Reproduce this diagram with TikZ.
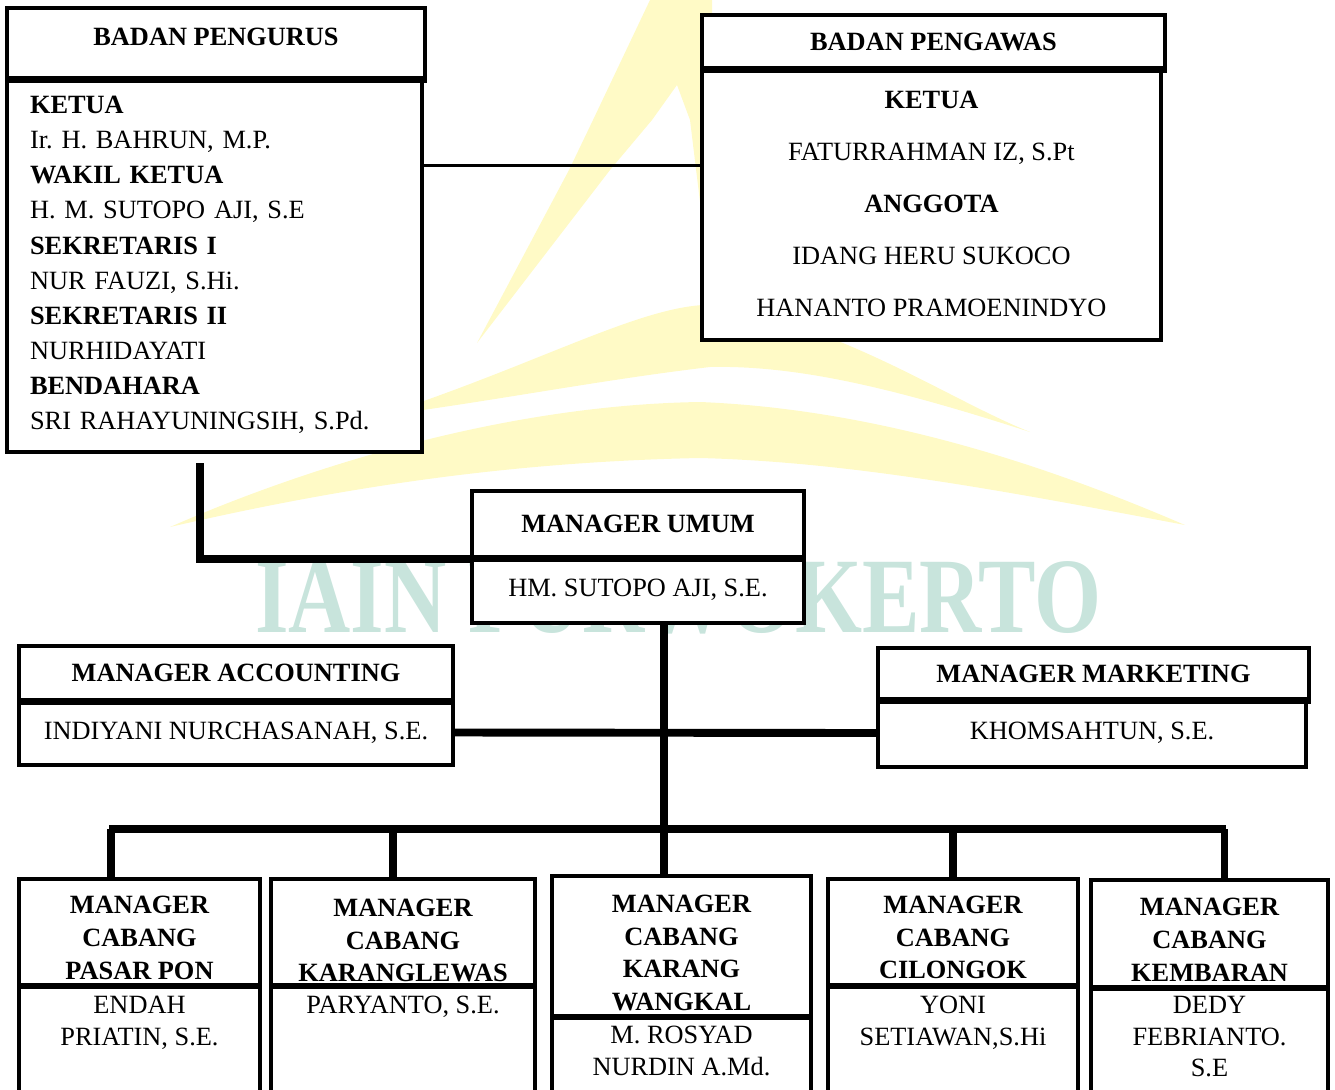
\documentclass[tikz,border=0pt]{standalone}
\usepackage{fontspec}
\setmainfont{Liberation Serif}
\frenchspacing
\definecolor{wmyellow}{RGB}{255,250,198}
\definecolor{wmteal}{RGB}{200,228,220}
\tikzset{
    box/.style = {
      draw,
      line width=2pt,
      fill=white,
      rectangle,
      inner sep=0pt,
      font=\fontsize{15}{20}\selectfont
    },
    headbox/.style = {
      box,
      font=\fontsize{15}{20}\selectfont\bfseries
    },
    cabtitle/.style = {inner sep=0pt, align=center, font=\fontsize{15}{18.7}\selectfont\bfseries},
    cabname/.style = {inner sep=0pt, align=center, anchor=north, font=\fontsize{15}{17.9}\selectfont},
    divider/.style = {line width=3.5pt},
    link/.style = {line width=2pt},
    thicklink/.style = {line width=4.5pt},
    droplink/.style = {line width=4pt},
}
\begin{document}
\begin{tikzpicture}[x=0.02cm, y=-0.02cm]
        \useasboundingbox (0,0) rectangle (1335,1089);
        \clip (0,0) rectangle (1335,1089);

        % watermark
        \fill[wmyellow] (650,0) -- (712,0) -- (712,300) -- (690,120) -- (677,85) -- (652,120)
          -- (610,170) -- (477,343) -- (569,170) -- (593,120) -- cycle;
        \fill[wmyellow] (380,416) .. controls (550,360) and (650,300) .. (720,305)
          .. controls (850,330) and (950,400) .. (1030,432)
          .. controls (900,390) and (800,365) .. (710,367)
          .. controls (600,380) and (500,400) .. (380,416) -- cycle;
        \fill[wmyellow] (170,527) .. controls (300,470) and (500,405) .. (700,402)
          .. controls (900,410) and (1080,480) .. (1185,525)
          .. controls (1000,490) and (850,462) .. (700,458)
          .. controls (500,462) and (330,490) .. (170,527) -- cycle;
        \node[inner sep=0pt, text=wmteal, anchor=base] (wmtext) at (678.5,632)
          {\resizebox{16.94cm}{1.42cm}{\bfseries IAIN PURWOKERTO}};

        % badan pengurus / pengawas
        \node[headbox, minimum width=8.36cm, minimum height=1.4cm, text depth=0.24cm] (pengurushead) at (216,43) {BADAN PENGURUS};
        \node[box, minimum width=8.3cm, minimum height=7.48cm, text width=7.38cm,
          inner xsep=0.46cm, align=left] (pengurusbody) at (214.5,265)
          {\textbf{KETUA}\\Ir. H. BAHRUN, M.P.\\\textbf{WAKIL KETUA}\\H. M. SUTOPO AJI, S.E\\
           \textbf{SEKRETARIS I}\\NUR FAUZI, S.Hi.\\\textbf{SEKRETARIS II}\\NURHIDAYATI\\
           \textbf{BENDAHARA}\\SRI RAHAYUNINGSIH, S.Pd.};
        \draw[divider] (pengurushead.south west) -- (pengurushead.south east);

        \node[headbox, minimum width=9.26cm, minimum height=1.06cm] (pengawashead) at (933.5,41.5) {BADAN PENGAWAS};
        \node[box, minimum width=9.18cm, minimum height=5.44cm, align=center,
          font=\fontsize{15}{29.5}\selectfont] (pengawasbody) at (931.5,204)
          {\textbf{KETUA}\\FATURRAHMAN IZ, S.Pt\\\textbf{ANGGOTA}\\IDANG HERU SUKOCO\\HANANTO PRAMOENINDYO};
        \draw[divider] (pengawashead.south west) -- (pengawashead.south east);

        % managers
        \node[headbox, minimum width=6.64cm, minimum height=1.32cm] (umumhead) at (638,524) {MANAGER UMUM};
        \node[box, minimum width=6.64cm, minimum height=1.32cm] (umumbody) at (638,590) {HM. SUTOPO AJI, S.E.};
        \draw[divider] (umumhead.south west) -- (umumhead.south east);

        \node[headbox, minimum width=8.68cm, minimum height=1.08cm] (accounthead) at (236,673) {MANAGER ACCOUNTING};
        \node[box, minimum width=8.68cm, minimum height=1.3cm] (accountbody) at (236,732.5) {INDIYANI NURCHASANAH, S.E.};
        \draw[divider] (accounthead.south west) -- (accounthead.south east);

        \node[headbox, minimum width=8.62cm, minimum height=1.02cm] (marketinghead) at (1093.5,673.5) {MANAGER MARKETING};
        \node[box, minimum width=8.56cm, minimum height=1.36cm] (marketingbody) at (1092,733) {KHOMSAHTUN, S.E.};
        \draw[divider] (marketinghead.south west) -- (marketinghead.south east);

        % cabang
        \node[box, anchor=north, minimum width=4.82cm, minimum height=4.46cm] (cab1) at (139.5,877) {};
        \node[box, anchor=north, minimum width=5.28cm, minimum height=4.46cm] (cab2) at (403,877) {};
        \node[box, anchor=north, minimum width=5.18cm, minimum height=4.52cm] (cab3) at (681.5,874) {};
        \node[box, anchor=north, minimum width=5.0cm, minimum height=4.46cm] (cab4) at (953,877) {};
        \node[box, anchor=north, minimum width=4.74cm, minimum height=4.44cm] (cab5) at (1209.5,878) {};
        \foreach \n/\y in {1/986,2/986,3/1017,4/986,5/988}
          \draw[divider] (cab\n.west |- 0,\y) -- (cab\n.east |- 0,\y);

        \node[cabtitle] (cab1title) at (139.5,938) {MANAGER\\CABANG\\PASAR PON};
        \node[cabtitle] (cab2title) at (403,940.5) {MANAGER\\CABANG\\KARANGLEWAS};
        \node[cabtitle] (cab3title) at (681.5,953) {MANAGER\\CABANG\\KARANG\\WANGKAL};
        \node[cabtitle] (cab4title) at (953,937.5) {MANAGER\\CABANG\\CILONGOK};
        \node[cabtitle] (cab5title) at (1209.5,939.5) {MANAGER\\CABANG\\KEMBARAN};

        \node[cabname] (cab1name) at (139.5,996) {ENDAH\\PRIATIN, S.E.};
        \node[cabname] (cab2name) at (403,996) {PARYANTO, S.E.};
        \node[cabname] (cab3name) at (681.5,1026) {M. ROSYAD\\NURDIN A.Md.};
        \node[cabname] (cab4name) at (953,996) {YONI\\SETIAWAN,S.Hi};
        \node[cabname] (cab5name) at (1209.5,996) {DEDY\\FEBRIANTO.\\S.E};

        % connectors
        \draw[link] (pengurusbody.north east) ++(0,89) coordinate (pp) -- (pp -| pengawasbody.west);
        \coordinate (elbowtop) at (200,463);
        \draw[thicklink] (elbowtop) |- (umumhead.south west);

        \coordinate (d1) at (111,829);
        \coordinate (d2) at (393,829);
        \coordinate (d3) at (664,829);
        \coordinate (d4) at (953,829);
        \coordinate (d5) at (1224,829);
        \draw[droplink] (umumbody.south -| d3) -- (d3);
        \draw[thicklink] (accountbody.east) -- (marketingbody.west);
        \draw[thicklink] ([xshift=-1pt]d1) -- ([xshift=1pt]d5);
        \foreach \d in {1,...,5}
          \draw[droplink] (d\d) -- (d\d |- cab\d.north);
\end{tikzpicture}
\end{document}
